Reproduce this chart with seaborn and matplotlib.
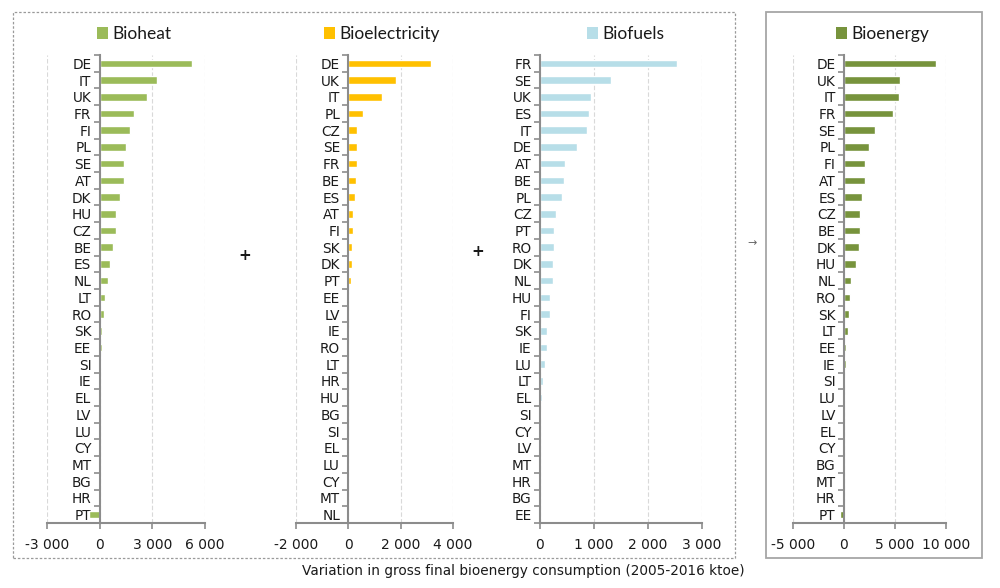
import numpy as np
import pandas as pd
import matplotlib
matplotlib.use("Agg")
import matplotlib.pyplot as plt
import seaborn as sns
from matplotlib.patches import Patch, Rectangle
from matplotlib.ticker import FuncFormatter, FixedLocator

# ---- data (ktoe, change 2005-2016) ----
heat_countries = ["DE", "IT", "UK", "FR", "FI", "PL", "SE", "AT", "DK", "HU", "CZ", "BE", "ES",
                  "NL", "LT", "RO", "SK", "EE", "SI", "IE", "EL", "LV", "LU", "CY", "MT", "BG", "HR", "PT"]
heat_values = [5240, 3260, 2720, 1940, 1730, 1490, 1390, 1370, 1140, 950, 940, 760, 610,
               480, 290, 250, 150, 140, 100, 10, 5, 3, 2, 1, 0, -10, -50, -630]

elec_countries = ["DE", "UK", "IT", "PL", "CZ", "SE", "FR", "BE", "ES", "AT", "FI", "SK", "DK",
                  "PT", "EE", "LV", "IE", "RO", "LT", "HR", "HU", "BG", "SI", "EL", "LU", "CY", "MT", "NL"]
elec_values = [3150, 1830, 1270, 550, 340, 330, 320, 310, 255, 180, 170, 140, 140,
               110, 20, 20, 10, 10, 5, 5, 5, 3, 2, 1, 1, 0, 0, -10]

fuel_countries = ["FR", "SE", "UK", "ES", "IT", "DE", "AT", "BE", "PL", "CZ", "PT", "RO", "DK",
                  "NL", "HU", "FI", "SK", "IE", "LU", "LT", "EL", "SI", "CY", "LV", "MT", "HR", "BG", "EE"]
fuel_values = [2530, 1315, 950, 907, 870, 680, 470, 437, 413, 302, 265, 262, 240,
               235, 185, 178, 135, 126, 85, 55, 30, 10, 3, 2, 1, 0, 0, -5]

total_countries = ["DE", "UK", "IT", "FR", "SE", "PL", "FI", "AT", "ES", "CZ", "BE", "DK", "HU",
                   "NL", "RO", "SK", "LT", "EE", "IE", "SI", "LU", "LV", "EL", "CY", "BG", "MT", "HR", "PT"]
total_values = [9050, 5520, 5390, 4800, 3000, 2450, 2060, 2030, 1760, 1570, 1540, 1500, 1180,
                690, 560, 490, 357, 200, 180, 100, 50, 30, 20, 5, 0, 0, -5, -360]

panels = [
    ("Bioheat", heat_countries, heat_values, "#9BBB59", (-3000, 6000), [-3000, 0, 3000, 6000]),
    ("Bioelectricity", elec_countries, elec_values, "#FFC000", (-2000, 4000), [-2000, 0, 2000, 4000]),
    ("Biofuels", fuel_countries, fuel_values, "#B7DEE8", (0, 3000), [0, 1000, 2000, 3000]),
    ("Bioenergy", total_countries, total_values, "#77933C", (-5000, 10000), [-5000, 0, 5000, 10000]),
]

sns.set_style("white")
plt.rcParams["font.family"] = ["DejaVu Sans"]

W, H = 1000, 588
fig = plt.figure(figsize=(W / 100, H / 100), dpi=100)

# axes placement in pixels (left, right)
ax_px = [(47, 205), (296, 453), (540, 702), (793, 946)]
top_px, bot_px = 55, 523
legend_px = [97, 324, 587, 836]

axis_grey = "#8c8c8c"
txt = "#1a1a1a"


def fmt(v, pos):
    s = f"{abs(int(v)):,}".replace(",", " ")
    return "-" + s if v < 0 else s


for (name, cats, vals, col, lim, ticks), (x0, x1), lx in zip(panels, ax_px, legend_px):
    ax = fig.add_axes([x0 / W, 1 - bot_px / H, (x1 - x0) / W, (bot_px - top_px) / H])
    df = pd.DataFrame({"country": cats, "value": vals})
    sns.barplot(data=df, x="value", y="country", orient="h", color=col,
                saturation=1, width=0.45, ax=ax, order=cats)
    ax.set_xlim(*lim)
    ax.set_xticks(ticks)
    ax.xaxis.set_major_formatter(FuncFormatter(fmt))
    ax.set_xlabel("")
    ax.set_ylabel("")
    ax.set_ylim(len(cats) - 0.5, -0.5)

    ax.xaxis.grid(True, color="#d9d9d9", linestyle=(0, (4, 2)), linewidth=0.8)
    ax.set_axisbelow(True)

    for s in ["top", "right"]:
        ax.spines[s].set_visible(False)
    ax.spines["left"].set_position(("data", 0))
    for s in ["left", "bottom"]:
        ax.spines[s].set_color(axis_grey)
        ax.spines[s].set_linewidth(1.5)

    ax.yaxis.set_minor_locator(FixedLocator(np.arange(-0.5, len(cats), 1.0)))
    ax.tick_params(axis="y", which="major", left=True, length=0, pad=6,
                   labelsize=9.8, labelcolor=txt)
    ax.tick_params(axis="y", which="minor", left=True, length=4, width=1.2,
                   color=axis_grey, direction="out")
    ax.tick_params(axis="x", which="major", bottom=True, length=4, width=1.2,
                   color=axis_grey, direction="out", pad=7, labelsize=10, labelcolor=txt)

    fig.legend(handles=[Patch(facecolor=col, edgecolor="none", label=name)],
               loc="center left", bbox_to_anchor=(lx / W, 1 - 34 / H),
               frameon=False, handlelength=0.65, handleheight=0.65, handletextpad=0.25,
               borderpad=0, borderaxespad=0, prop={"family": "Lato", "size": 12.5},
               labelcolor=txt)

# plus signs and arrow
fig.text(245 / W, 1 - 255 / H, "+", ha="center", va="center", fontsize=11, fontweight="bold", color=txt)
fig.text(478 / W, 1 - 252 / H, "+", ha="center", va="center", fontsize=11, fontweight="bold", color=txt)
fig.text(752 / W, 1 - 243 / H, "\u2192", ha="center", va="center", fontsize=8, color="#666666")

# boxes
fig.add_artist(Rectangle((13 / W, 1 - 558 / H), (735 - 13) / W, (558 - 12) / H,
                         transform=fig.transFigure, fill=False, edgecolor="#9a9a9a",
                         linestyle=(0, (2, 1.5)), linewidth=0.9))
fig.add_artist(Rectangle((766 / W, 1 - 558 / H), (982 - 766) / W, (558 - 12) / H,
                         transform=fig.transFigure, fill=False, edgecolor="#a6a6a6",
                         linewidth=1.3))

fig.text(523 / W, 1 - 571 / H, "Variation in gross final bioenergy consumption (2005-2016 ktoe)",
         ha="center", va="center", fontsize=9.8, color=txt)

fig.savefig("out.png", dpi=100)
